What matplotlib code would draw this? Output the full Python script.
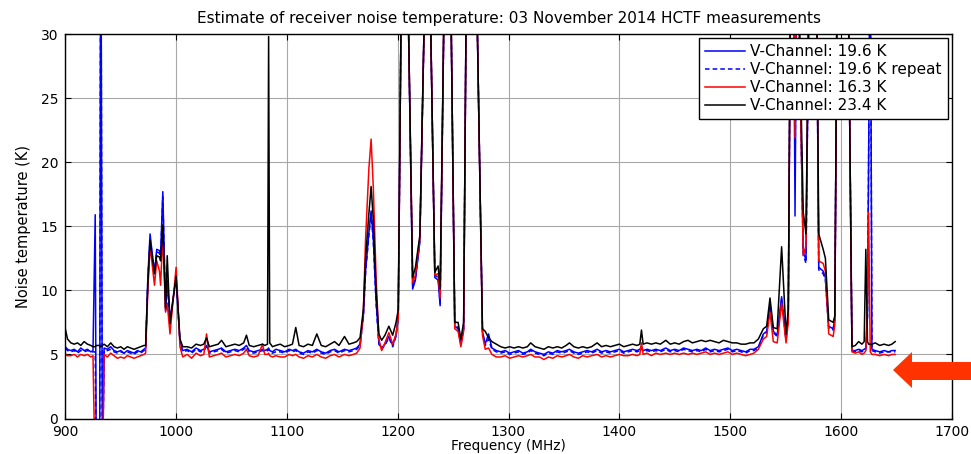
import matplotlib
matplotlib.use("Agg")
import matplotlib.pyplot as plt
from matplotlib.patches import Polygon

# Frequency grid (MHz) shared by all four measurements
freq_mhz = [
    # 900-971
    900, 902, 905, 908, 911, 914, 917, 920, 923, 925,
    927, 928, 931, 932, 933.5, 935, 938, 941, 944, 947,
    950, 953, 956, 959, 962, 965, 968, 971,
    # 972-1006
    972.5, 974.5, 976.5, 980.5, 982.5, 985, 986, 988, 990.5, 992,
    994.5, 1000, 1003.5, 1006,
    # 1010-1163
    1010, 1014, 1018, 1022, 1025, 1027.5, 1030, 1034, 1038, 1041,
    1045, 1049, 1053, 1057, 1061, 1063.5, 1066, 1070, 1074, 1078,
    1080, 1082.5, 1083.5, 1084.5, 1087, 1090, 1094, 1098, 1102, 1105,
    1108, 1111, 1115, 1119, 1123, 1127, 1131, 1135, 1139, 1143,
    1147, 1152, 1156, 1160, 1163,
    # 1166-1289
    1166, 1169, 1171, 1174, 1176, 1178, 1180.5, 1183, 1185.5, 1188.5,
    1192, 1195.5, 1198.5, 1200.5, 1204, 1208, 1213.5, 1216, 1220, 1226,
    1228, 1233.5, 1236.5, 1238.3, 1243, 1247, 1251.5, 1254.5, 1257, 1259.5,
    1262.5, 1270, 1276.5, 1279, 1282, 1285, 1289,
    # 1293-1518
    1293, 1297, 1301, 1305, 1309, 1313, 1317, 1320, 1324, 1328,
    1332, 1336, 1340, 1344, 1348, 1352, 1355, 1359, 1363, 1367,
    1371, 1375, 1380, 1384, 1388, 1392, 1396, 1400, 1404, 1408,
    1412, 1416, 1418.5, 1420, 1421.5, 1425, 1429, 1433, 1437, 1442,
    1446, 1450, 1454, 1458, 1462, 1466, 1470, 1474, 1478, 1482,
    1486, 1490, 1494, 1498, 1502, 1506, 1510, 1514, 1518,
    # 1521-1649
    1521.5, 1525.5, 1530, 1533, 1536, 1539, 1542.5, 1546.5, 1550.5, 1552.5,
    1555, 1557, 1558.6, 1560.5, 1566, 1568.5, 1572, 1577.5, 1580, 1584,
    1586, 1589, 1593, 1594.5, 1597, 1606, 1610, 1613, 1616, 1619,
    1621, 1622.5, 1624, 1625, 1626.5, 1628, 1631, 1635, 1639, 1643,
    1646, 1649,
]

# Noise temperature (K), V-Channel 19.6 K load
t_v196 = [
    5.6, 5.4, 5.3, 5.4, 5.2, 5.5, 5.3, 5.4, 5.2, 5.3,
    15.9, -5, -5, 45, -5, 5.5, 5.4, 5.6, 5.3, 5.2,
    5.3, 5.1, 5.3, 5.2, 5.1, 5.3, 5.2, 5.4,
    5.5, 11.0, 14.4, 11.3, 13.2, 13.1, 12.8, 17.7, 8.5, 10.8,
    7.7, 11.0, 6.0, 5.3,
    5.4, 5.2, 5.5, 5.3, 5.4, 5.7, 5.2, 5.3, 5.4, 5.5,
    5.2, 5.3, 5.4, 5.3, 5.5, 5.7, 5.3, 5.2, 5.3, 5.4,
    5.3, 5.4, 5.5, 5.3, 5.2, 5.4, 5.3, 5.2, 5.4, 5.3,
    5.4, 5.2, 5.1, 5.3, 5.2, 5.4, 5.2, 5.1, 5.3, 5.4,
    5.2, 5.4, 5.3, 5.4, 5.5,
    5.8, 8.0, 11.5, 14.5, 16.2, 14.0, 9.2, 5.9, 5.5, 5.8,
    6.4, 5.7, 6.5, 8.0, 40, 40, 10.1, 10.8, 13.8, 40,
    40, 11.0, 10.8, 8.8, 40, 40, 7.2, 7.0, 5.8, 7.0,
    40, 40, 6.8, 5.8, 6.6, 5.5, 5.3,
    5.2, 5.3, 5.1, 5.2, 5.3, 5.1, 5.2, 5.4, 5.2, 5.1,
    5.0, 5.2, 5.1, 5.3, 5.2, 5.3, 5.4, 5.2, 5.1, 5.2,
    5.3, 5.2, 5.4, 5.2, 5.3, 5.2, 5.3, 5.4, 5.2, 5.3,
    5.4, 5.3, 5.4, 5.6, 5.3, 5.4, 5.3, 5.4, 5.3, 5.5,
    5.3, 5.4, 5.3, 5.5, 5.4, 5.3, 5.4, 5.3, 5.5, 5.3,
    5.4, 5.3, 5.4, 5.5, 5.3, 5.4, 5.3, 5.2, 5.4,
    5.4, 5.6, 6.6, 6.8, 8.8, 6.8, 6.5, 9.5, 6.2, 8.0,
    40, 40, 15.8, 40, 13.0, 12.4, 40, 40, 11.8, 11.5,
    11.0, 7.2, 7.0, 7.8, 40, 40, 5.3, 5.3, 5.4, 5.3,
    5.4, 5.5, 8.0, 20.0, 40, 5.4, 5.3, 5.2, 5.3, 5.2,
    5.3, 5.3,
]

# V-Channel 19.6 K load, repeated measurement
t_v196_rep = [
    5.5, 5.3, 5.2, 5.3, 5.1, 5.3, 5.2, 5.3, 5.2, 5.2,
    5.2, -5, -5, 45, -5, 5.3, 5.3, 5.4, 5.2, 5.1,
    5.2, 5.1, 5.2, 5.1, 5.0, 5.2, 5.1, 5.3,
    5.4, 10.8, 14.0, 11.5, 13.0, 12.9, 12.5, 17.3, 8.4, 10.5,
    7.6, 10.9, 5.9, 5.2,
    5.3, 5.1, 5.4, 5.2, 5.3, 5.6, 5.1, 5.2, 5.3, 5.4,
    5.1, 5.2, 5.3, 5.2, 5.4, 5.6, 5.2, 5.1, 5.2, 5.3,
    5.2, 5.3, 5.4, 5.2, 5.1, 5.2, 5.2, 5.1, 5.3, 5.2,
    5.3, 5.1, 5.0, 5.2, 5.1, 5.3, 5.1, 5.0, 5.2, 5.3,
    5.1, 5.3, 5.2, 5.3, 5.4,
    5.7, 7.9, 11.4, 14.3, 16.0, 13.8, 9.0, 5.8, 5.4, 5.7,
    6.3, 5.6, 6.4, 7.9, 40, 40, 10.3, 10.9, 13.9, 40,
    40, 11.2, 11.0, 9.0, 40, 40, 7.3, 7.1, 5.9, 7.0,
    40, 40, 6.7, 5.7, 6.2, 5.4, 5.2,
    5.1, 5.2, 5.0, 5.1, 5.2, 5.0, 5.1, 5.3, 5.1, 5.0,
    4.9, 5.1, 5.0, 5.2, 5.1, 5.2, 5.3, 5.1, 5.0, 5.1,
    5.2, 5.1, 5.3, 5.1, 5.2, 5.1, 5.2, 5.3, 5.1, 5.2,
    5.3, 5.2, 5.3, 5.5, 5.2, 5.3, 5.2, 5.3, 5.2, 5.4,
    5.2, 5.3, 5.2, 5.4, 5.3, 5.2, 5.3, 5.2, 5.4, 5.2,
    5.3, 5.2, 5.3, 5.4, 5.2, 5.3, 5.2, 5.1, 5.3,
    5.3, 5.5, 6.5, 6.7, 8.7, 6.7, 6.4, 9.3, 6.1, 8.0,
    40, 40, 19.0, 40, 12.8, 12.1, 40, 40, 11.6, 11.3,
    10.8, 7.0, 6.9, 7.7, 40, 40, 5.3, 5.2, 5.3, 5.2,
    5.3, 5.4, 8.0, 20.0, 40, 5.3, 5.2, 5.1, 5.2, 5.2,
    5.2, 5.2,
]

# V-Channel 16.3 K load
t_v163 = [
    5.0, 4.9, 4.9, 5.0, 4.8, 5.0, 4.9, 5.0, 4.8, 4.9,
    -5, -5, -5, -5, -5, 5.0, 4.8, 5.1, 4.9, 4.7,
    4.8, 4.7, 4.9, 4.8, 4.7, 4.8, 4.9, 5.0,
    5.1, 10.0, 13.5, 10.4, 12.3, 11.5, 10.4, 14.3, 8.3, 9.0,
    6.6, 11.8, 5.6, 4.8,
    5.0, 4.7, 5.1, 4.9, 5.0, 6.6, 4.8, 4.9, 5.0, 5.1,
    4.8, 4.9, 5.0, 4.9, 5.1, 5.4, 4.9, 4.8, 4.9, 5.8,
    5.0, 5.0, 5.1, 4.9, 4.8, 4.9, 4.8, 4.8, 5.0, 4.9,
    5.0, 4.8, 4.7, 4.9, 4.8, 5.0, 4.8, 4.7, 4.9, 5.0,
    4.8, 5.0, 4.9, 5.0, 5.1,
    5.5, 8.3, 14.0, 19.5, 21.8, 18.0, 11.0, 6.2, 5.3, 5.9,
    6.7, 5.8, 6.6, 7.8, 40, 40, 10.6, 11.2, 14.0, 40,
    40, 11.2, 11.3, 9.4, 40, 40, 7.0, 6.8, 5.6, 6.8,
    40, 40, 6.5, 5.4, 5.5, 5.0, 4.8,
    4.8, 4.9, 4.7, 4.8, 4.9, 4.8, 4.9, 5.0, 4.8, 4.8,
    4.6, 4.8, 4.7, 4.9, 4.8, 4.9, 5.0, 4.8, 4.7, 4.9,
    4.8, 4.9, 5.0, 4.8, 4.9, 4.8, 4.9, 5.0, 4.9, 4.9,
    5.0, 4.9, 5.0, 5.9, 5.0, 5.1, 4.9, 5.1, 5.0, 5.1,
    5.0, 5.1, 5.0, 5.1, 5.0, 5.1, 5.0, 5.1, 5.2, 5.0,
    5.1, 5.0, 5.1, 5.2, 5.0, 5.1, 5.0, 4.9, 5.0,
    5.1, 5.4, 6.2, 6.4, 8.3, 6.0, 5.9, 9.0, 5.9, 7.5,
    40, 40, 21.9, 40, 12.7, 13.5, 40, 40, 12.3, 12.1,
    11.5, 6.6, 6.4, 7.3, 40, 40, 5.2, 5.1, 5.2, 5.0,
    5.1, 5.3, 9.0, 16.1, 5.2, 5.0, 5.0, 4.9, 5.0, 4.9,
    5.0, 5.0,
]

# V-Channel 23.4 K load
t_v234 = [
    7.0, 6.2, 5.9, 5.8, 5.9, 5.7, 6.0, 5.8, 5.7, 5.6,
    5.6, 5.7, 5.7, 5.6, 5.7, 5.8, 5.6, 5.9, 5.6, 5.5,
    5.6, 5.4, 5.6, 5.5, 5.4, 5.5, 5.6, 5.7,
    5.7, 10.5, 13.9, 11.3, 12.7, 12.6, 12.3, 15.1, 8.6, 12.7,
    7.4, 11.1, 6.2, 5.6,
    5.6, 5.5, 5.8, 5.7, 5.8, 6.3, 5.6, 5.7, 5.8, 6.1,
    5.6, 5.7, 5.8, 5.7, 5.9, 6.5, 5.7, 5.6, 5.7, 5.8,
    5.7, 5.8, 29.8, 5.9, 5.6, 5.7, 5.8, 5.6, 5.7, 5.8,
    7.1, 5.7, 5.6, 5.8, 5.7, 6.6, 5.7, 5.6, 5.8, 6.0,
    5.7, 6.4, 5.8, 5.9, 6.0,
    6.3, 8.5, 12.5, 16.0, 18.1, 15.5, 10.0, 6.6, 6.1, 6.5,
    7.2, 6.5, 7.5, 8.5, 40, 40, 11.0, 11.8, 14.3, 40,
    40, 11.4, 11.9, 10.1, 40, 40, 7.5, 7.5, 6.2, 7.5,
    40, 40, 7.0, 6.8, 6.3, 6.0, 5.8,
    5.6, 5.5, 5.6, 5.5, 5.6, 5.5, 5.6, 5.9, 5.6, 5.5,
    5.4, 5.6, 5.5, 5.6, 5.5, 5.7, 5.9, 5.6, 5.5, 5.6,
    5.5, 5.6, 5.9, 5.6, 5.7, 5.6, 5.7, 5.8, 5.6, 5.7,
    5.8, 5.7, 5.8, 6.9, 5.8, 5.9, 5.8, 5.9, 5.8, 6.1,
    5.8, 5.9, 5.8, 6.0, 6.1, 5.9, 6.0, 6.1, 6.0, 6.1,
    6.0, 5.9, 6.1, 6.0, 5.9, 5.9, 5.8, 5.8, 5.9,
    5.9, 6.2, 7.0, 7.2, 9.4, 7.1, 7.0, 13.4, 6.6, 8.5,
    40, 40, 40, 40, 16.1, 14.4, 40, 40, 14.4, 13.2,
    12.5, 7.7, 7.5, 8.0, 40, 40, 5.6, 5.7, 6.0, 5.8,
    6.0, 13.2, 6.0, 5.8, 5.8, 5.8, 5.9, 5.7, 5.8, 5.7,
    5.8, 6.0,
]

series_labels = [
    "V-Channel: 19.6 K",
    "V-Channel: 19.6 K repeat",
    "V-Channel: 16.3 K",
    "V-Channel: 23.4 K",
]
x_ticks = [900, 1000, 1100, 1200, 1300, 1400, 1500, 1600, 1700]
y_ticks = [0, 5, 10, 15, 20, 25, 30]

plt.rcParams["font.family"] = ["DejaVu Sans"]

W, H = 971, 454
fig = plt.figure(figsize=(W / 100, H / 100), dpi=100)
ax = fig.add_axes([65.3 / W, 1 - 418.5 / H, (951.7 - 65.3) / W, (418.5 - 34) / H])

ax.plot(freq_mhz, t_v196, color="#0000ff", lw=1.1, label=series_labels[0])
ax.plot(freq_mhz, t_v196_rep, color="#0000ff", lw=1.1, ls=(0, (3, 2)),
        label=series_labels[1])
ax.plot(freq_mhz, t_v163, color="#ff0000", lw=1.1, label=series_labels[2])
ax.plot(freq_mhz, t_v234, color="#000000", lw=1.1, label=series_labels[3])

ax.set_xlim(900, 1700)
ax.set_ylim(0, 30)
ax.set_xticks(x_ticks)
ax.set_yticks(y_ticks)
ax.grid(True, color="#a8a8a8", lw=0.8)
ax.tick_params(direction="in", top=True, right=True, length=4, width=0.8,
               labelsize=10)
ax.tick_params(axis="x", pad=4.8)
ax.tick_params(axis="y", pad=5)
for lbl in ax.get_yticklabels():
    lbl.set_verticalalignment("center_baseline")
for s in ax.spines.values():
    s.set_linewidth(1.0)

ax.set_title("Estimate of receiver noise temperature: 03 November 2014 HCTF measurements",
             fontsize=11, pad=8)
ax.set_xlabel("Frequency (MHz)", fontsize=9.8, labelpad=0)
ax.set_ylabel("Noise temperature (K)", fontsize=10.5, labelpad=7)

leg = ax.legend(loc="upper right", fontsize=11, frameon=True, fancybox=False,
                edgecolor="black", framealpha=1, borderaxespad=0.25,
                handlelength=2.6, handletextpad=0.35, borderpad=0.4,
                labelspacing=0.2)
leg.get_frame().set_linewidth(1.0)

# Red pointer arrow at the right edge, level with the 5 K baseline
arrow_px = [(893, 370), (912, 352), (912, 362), (971, 362),
            (971, 380), (912, 380), (912, 388)]
arrow = Polygon([(x / W, 1 - y / H) for x, y in arrow_px], closed=True,
                transform=fig.transFigure, facecolor="#ff3300",
                edgecolor="none", clip_on=False)
fig.add_artist(arrow)

fig.savefig("out.png", dpi=100)
